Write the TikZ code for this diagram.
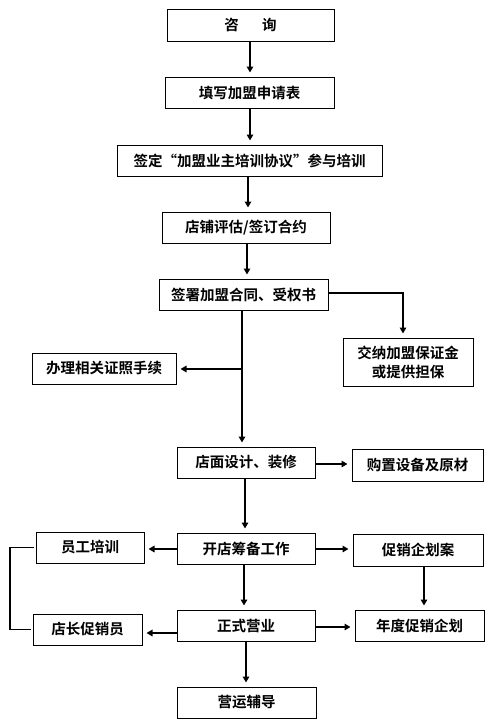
\documentclass[tikz,border=0pt]{standalone}
\usepackage{fontspec}
\newfontfamily\cjk{Noto Sans CJK SC}[BoldFont={Noto Sans CJK SC Bold}]
\usetikzlibrary{arrows.meta}
\tikzset{
  box/.style={draw, line width=1pt, inner sep=0pt, align=center,
    font=\cjk\bfseries\fontsize{14.5}{19}\selectfont},
  conn/.style={line width=1.8pt},
  arr/.style={conn, -{Triangle[length=6pt,width=6.5pt]}, shorten >=4pt},
}
\begin{document}
\begin{tikzpicture}[x=1pt,y=-1pt]
\useasboundingbox (0,0) rectangle (500,728);
% main column
\node[box, minimum width=167pt, minimum height=32pt] (b1) at (250.5,25) {咨\hspace{1.6em}询};
\node[box, minimum width=169pt, minimum height=31pt] (b2) at (249.5,92.5) {填写加盟申请表};
\node[box, minimum width=265pt, minimum height=31pt] (b3) at (249.5,160.5) {签定“加盟业主培训协议”参与培训};
\node[box, minimum width=168pt, minimum height=31pt] (b4) at (246,227.5) {店铺评估/签订合约};
\node[box, minimum width=169pt, minimum height=31pt] (b5) at (243.5,294.5) {签署加盟合同、受权书};
\node[box, minimum width=130pt, minimum height=48pt] (jn) at (408,362) {交纳加盟保证金\\或提供担保};
\node[box, minimum width=144pt, minimum height=31pt] (bl) at (104,368.5) {办理相关证照手续};
\node[box, minimum width=138pt, minimum height=31pt] (dm) at (246,462.5) {店面设计、装修};
\node[box, minimum width=131pt, minimum height=32pt] (gz) at (417.5,465) {购置设备及原材};
\node[box, minimum width=138pt, minimum height=31pt] (kd) at (246,548.5) {开店筹备工作};
\node[box, minimum width=108pt, minimum height=31pt] (yg) at (90,547.5) {员工培训};
\node[box, minimum width=130pt, minimum height=32pt] (cx) at (418,550) {促销企划案};
\node[box, minimum width=129pt, minimum height=31pt] (nd) at (419.5,625.5) {年度促销企划};
\node[box, minimum width=138pt, minimum height=31pt] (zs) at (246,625.5) {正式营业};
\node[box, minimum width=109pt, minimum height=31pt] (dz) at (87.5,629.5) {店长促销员};
\node[box, minimum width=139pt, minimum height=31pt] (yy) at (246.5,702.5) {营运辅导};
% connectors
\coordinate (x1) at (250,0);
\draw[arr] (x1 |- b1.south) -- (x1 |- b2.north);
\draw[arr] (x1 |- b2.south) -- (x1 |- b3.north);
\coordinate (x3) at (248,0);
\draw[arr] (x3 |- b3.south) -- (x3 |- b4.north);
\coordinate (x4) at (247,0);
\draw[arr] (x4 |- b4.south) -- (x4 |- b5.north);
\coordinate (c5) at (403,293);
\draw[arr] (b5.east |- c5) -| (c5 |- jn.north);
\coordinate (t) at (242,369);
\draw[arr] (t |- b5.south) -- (t |- dm.north);
\draw[arr] (t) -- (bl.east |- t);
\coordinate (r1) at (0,464);
\draw[arr] (dm.east |- r1) -- (gz.west |- r1);
\coordinate (x5) at (245,0);
\draw[arr] (x5 |- dm.south) -- (x5 |- kd.north);
\coordinate (r2) at (0,549);
\draw[arr] (kd.west |- r2) -- (yg.east |- r2);
\draw[arr] (kd.east |- r2) -- (cx.west |- r2);
\coordinate (x6) at (424,0);
\draw[arr] (x6 |- cx.south) -- (x6 |- nd.north);
\coordinate (x7) at (244,0);
\draw[arr] (x7 |- kd.south) -- (x7 |- zs.north);
\coordinate (r3) at (0,633);
\draw[arr] (zs.west |- r3) -- (dz.east |- r3);
\coordinate (r4) at (0,627);
\draw[arr] (zs.east |- r4) -- (nd.west |- r4);
\coordinate (x8) at (246,0);
\draw[arr] (x8 |- zs.south) -- (x8 |- yy.north);
\coordinate (lb) at (10,588);
\draw[conn] ([xshift=-2pt]yg.west) -| (lb) |- ([xshift=-2pt]dz.west);
\end{tikzpicture}
\end{document}
